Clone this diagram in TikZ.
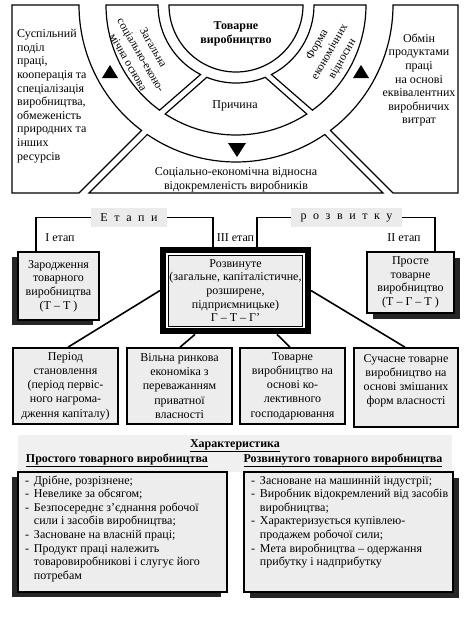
\documentclass[tikz,border=0pt]{standalone}
\usepackage{fontspec}
\setmainfont{Liberation Serif}
\newfontfamily\rozryadka[LetterSpace=55]{Liberation Serif}
\usepackage{tikz}
\usetikzlibrary{positioning,calc,shadows}
\newcommand{\osn}{\fontsize{12}{13.6}\selectfont}
\newcommand{\povern}{\fontsize{11.5}{14.5}\selectfont}
\tikzset {
kontur/.style={line width=1.2pt},
stadiya/.style={shape=rectangle,draw,line width=1.3pt,fill=black!7,align=center,inner sep=1pt},
livatin/.style={drop shadow={shadow xshift=-6pt,shadow yshift=-5pt,fill=black!85,opacity=1}},
pravatin/.style={drop shadow={shadow xshift=6pt,shadow yshift=-5.5pt,fill=black!85,opacity=1}},
napys/.style={fill=black!8,inner sep=0pt,minimum height=19pt},
duzhka/.style={line width=1.6pt},
zvyazok/.style={line width=1.6pt},
nyzblok/.style={shape=rectangle,draw,line width=1.6pt,fill=black!7,align=center,inner sep=1pt,minimum width=105pt,minimum height=76pt,font=\fontsize{12}{14.2}\selectfont},
spysok/.style={shape=rectangle,draw,line width=1.2pt,fill=black!7,inner xsep=7pt,inner ysep=2.5pt,text height=9.5pt,text depth=105.5pt}
}

\begin{document}
\begin{tikzpicture}
[x=1pt, y=1pt, font=\osn]
\useasboundingbox (0, 0) rectangle (464, -627);
\coordinate (c) at (236, -5);
\draw[kontur] (12, -5) -- (79, -5) arc[start angle=180, end angle=233, radius=157pt] -- (79, -193) -- (12, -193) -- cycle;
\draw[kontur] (89, -193) -- ($(c)+(235.6:157)$) arc[start angle=235.6, end angle=304.4, radius=157pt] -- (383, -193) -- cycle;
\draw[kontur] (458, -5) -- (393, -5) arc[start angle=0, end angle=-53, radius=157pt] -- (393, -193) -- (458, -193) -- cycle;
\draw[kontur] (169, -5) arc[start angle=180, end angle=360, radius=67pt] -- cycle;
\draw[kontur] ($(c)+(180:130)$) arc[start angle=180, end angle=234, radius=130pt] -- ($(c)+(243:78)$) arc[start angle=243, end angle=180, radius=78pt] -- cycle;
\draw[kontur] ($(c)+(237:130)$) arc[start angle=237, end angle=303, radius=130pt] -- ($(c)+(292:78)$) arc[start angle=292, end angle=248, radius=78pt] -- cycle;
\draw[kontur] ($(c)+(0:130)$) arc[start angle=0, end angle=-54, radius=130pt] -- ($(c)+(-63:78)$) arc[start angle=-63, end angle=0, radius=78pt] -- cycle;
\fill (102, -78) -- (118, -78) -- (110, -65) -- cycle;
\fill (353, -78) -- (369, -78) -- (361, -65) -- cycle;
\fill (228, -143) -- (246, -143) -- (237, -157) -- cycle;
\node (tovvyr) at (236, -34) [font=\osn\bfseries, align=center] {Товарне\\виробництво};
\node (prych) at (235, -106) {Причина};
\node (zah) at (141, -55) [rotate=-60, align=center, font=\povern] {Загальна\\соціально-еконо-\\мічна основа};
\node (forma) at (330, -52) [rotate=60, align=center, font=\povern] {Форма\\економічних\\відносин};
\node (podil) at (17, -96) [anchor=west, align=left, inner sep=0pt] {Суспільний\\поділ\\праці,\\кооперація та\\спеціалізація\\виробництва,\\обмеженість\\природних та\\інших\\ресурсів};
\node (obmin) at (419, -80) [align=center, inner sep=0pt] {Обмін\\продуктами\\праці\\на основі\\еквівалентних\\виробничих\\витрат};
\node (vidokr) at (236, -180) [align=center] {Соціально-економічна відносна\\відокремленість виробників};

\node (zarod) at (58.5, -286) [stadiya, livatin, minimum width=81pt, minimum height=68pt] {Зародження\\товарного\\виробництва\\(Т – Т )};
\node (rozv) at (235.5, -290.5) [stadiya, line width=0.8pt, minimum width=129pt, minimum height=71pt] {Розвинуте\\(загальне, капіталістичне,\\розширене,\\підприємницьке)\\Г – Т – Г'};
\node (prost) at (410.5, -282.5) [stadiya, pravatin, minimum width=87pt, minimum height=61pt] {Просте\\товарне\\виробництво\\(Т – Г – Т )};
\node (etapy) at (129, -217.5) [napys, minimum width=76pt] {\rozryadka Етапи};
\node (rozvytku) at (346.5, -217.5) [napys, minimum width=111pt] {\rozryadka розвитку};
\node (etap1) at (60, -238) {I етап};
\node (etap3) at (235.5, -238) {III етап};
\node (etap2) at (404, -238) {II етап};
\draw[duzhka] (etapy.west) -| ([xshift=-22.5pt]zarod.north);
\draw[duzhka] (etapy.east) -| ([xshift=-22.5pt, yshift=8pt]rozv.north);
\draw[duzhka] (rozvytku.west) -| ([xshift=21.5pt, yshift=8pt]rozv.north);
\draw[duzhka] (rozvytku.east) -| ([xshift=24.5pt]prost.north);
\draw[line width=6pt] ([shift={(-5, -5)}]rozv.south west) rectangle ([shift={(5, 5)}]rozv.north east);

\node (per) at (65.5, -386) [nyzblok] {Період\\становлення\\(період первіс-\\ного нагрома-\\дження капіталу)};
\node (vil) at (179.5, -386) [nyzblok] {Вільна ринкова\\економіка з\\переважанням\\приватної\\власності};
\node (tov) at (292.5, -386) [nyzblok] {Товарне\\виробництво на\\основі ко-\\лективного\\господарювання};
\node (such) at (406, -387.5) [nyzblok, minimum width=104pt, minimum height=79pt, text depth=16pt] {Сучасне товарне\\виробництво на\\основі змішаних\\форм власності};
\draw[zvyazok] ([xshift=-8pt]rozv.west) -- ([xshift=2.5pt]per.north);
\draw[zvyazok] ([xshift=-40.5pt, yshift=-8pt]rozv.south) -- ([xshift=0.5pt]vil.north);
\draw[zvyazok] ([xshift=41.5pt, yshift=-8pt]rozv.south) -- ([xshift=-2.5pt]tov.north);
\draw[zvyazok] ([xshift=8pt]rozv.east) -- ([xshift=-1pt]such.north);

\fill[black!6] (18, -435) rectangle (452, -472);
\node (kharakt) at (235, -446) [font=\osn\bfseries] {\underline{Характеристика}};
\node (prostkh) at (117, -460) [font=\osn\bfseries] {\underline{Простого товарного виробництва}};
\node (rozvkh) at (343, -460) [font=\osn\bfseries] {\underline{Розвинутого товарного виробництва}};
\node (spys1) at (122.5, -532) [spysok, livatin] {\makebox[195pt][l]{\begin{tabular}[t]{@{}l@{\hspace{5pt}}l@{}}
- & Дрібне, розрізнене;\\
- & Невелике за обсягом;\\
- & Безпосереднє з’єднання робочої\\
  & сили і засобів виробництва;\\
- & Засноване на власній праці;\\
- & Продукт праці належить\\
  & товаровиробникові і слугує його\\
  & потребам
\end{tabular}}};
\node (spys2) at (348.5, -532) [spysok, pravatin] {\makebox[195pt][l]{\begin{tabular}[t]{@{}l@{\hspace{5pt}}l@{}}
- & Засноване на машинній індустрії;\\
- & Виробник відокремлений від засобів\\
  & виробництва;\\
- & Характеризується купівлею-\\
  & продажем робочої сили;\\
- & Мета виробництва – одержання\\
  & прибутку і надприбутку
\end{tabular}}};
\end{tikzpicture}
\end{document}
